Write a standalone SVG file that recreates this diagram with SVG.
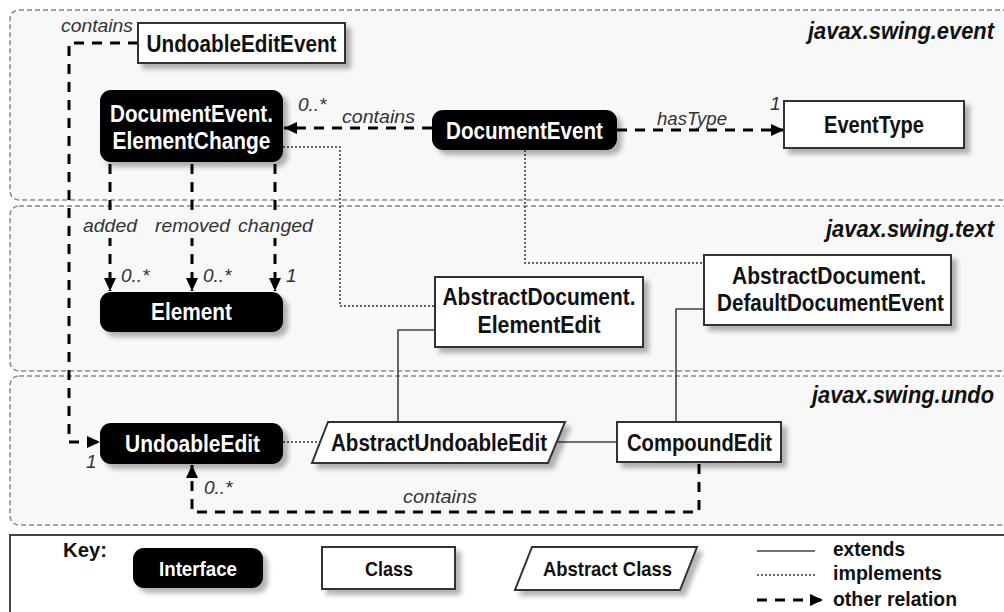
<svg xmlns="http://www.w3.org/2000/svg" width="1004" height="612" viewBox="0 0 1004 612">
<defs>
<filter id="sh" x="-10%" y="-20%" width="130%" height="160%">
<feGaussianBlur in="SourceAlpha" stdDeviation="2.5"/>
<feOffset dx="5" dy="5" result="o"/>
<feComponentTransfer><feFuncA type="linear" slope="0.3"/></feComponentTransfer>
<feMerge><feMergeNode/><feMergeNode in="SourceGraphic"/></feMerge>
</filter>
<marker id="arr" markerUnits="userSpaceOnUse" markerWidth="14" markerHeight="12" refX="13" refY="6" orient="auto">
<path d="M0,0 L13,6 L0,12 z" fill="#000"/>
</marker>
<style>
.pkg{fill:#f8f8f8;stroke:#888;stroke-width:1.5;stroke-dasharray:5,3}
.pkgl{font-family:"Liberation Sans",Arial,sans-serif;font-weight:bold;font-style:italic;font-size:23px;fill:#111}
.ifc{fill:#000;filter:url(#sh)}
.cls{fill:#fff;stroke:#333;stroke-width:2;filter:url(#sh)}
.nt{font-family:"Liberation Sans Narrow","Liberation Sans",Arial,sans-serif;font-weight:bold;font-size:23px;text-anchor:middle}
.w{fill:#fff}
.b{fill:#111}
.lbl{font-family:"Liberation Sans Narrow","Liberation Sans",Arial,sans-serif;font-style:italic;font-size:19px;fill:#333}
.ext{fill:none;stroke:#444;stroke-width:1.6}
.imp{fill:none;stroke:#333;stroke-width:1.5;stroke-dasharray:2,2}
.oth{fill:none;stroke:#000;stroke-width:3;stroke-dasharray:10,8}
.kt{font-family:"Liberation Sans Narrow","Liberation Sans",Arial,sans-serif;font-weight:bold;font-size:21px;fill:#111}
</style>
</defs>
<rect width="1004" height="612" fill="#fff"/>
<g id="packages">
<rect class="pkg" x="10" y="10" width="1010" height="190" rx="9"/>
<rect class="pkg" x="10" y="206" width="1010" height="165" rx="9"/>
<rect class="pkg" x="10" y="376" width="1010" height="149" rx="9"/>
<text class="pkgl" x="808" y="39" textLength="186" lengthAdjust="spacingAndGlyphs">javax.swing.event</text>
<text class="pkgl" x="826" y="237" textLength="168" lengthAdjust="spacingAndGlyphs">javax.swing.text</text>
<text class="pkgl" x="812" y="403" textLength="182" lengthAdjust="spacingAndGlyphs">javax.swing.undo</text>
</g>
<g id="connectors">
<path class="imp" d="M283,147 H340 V306 H435"/>
<path class="imp" d="M525,150 V263 H704"/>
<path class="imp" d="M283,442 H320"/>
<path class="ext" d="M398,422 V330 H435"/>
<path class="ext" d="M557,442 H617"/>
<path class="ext" d="M676,422 V309 H704"/>
<path class="oth" d="M138,43 H69 V442 H100" marker-end="url(#arr)"/>
<path class="oth" d="M432,128 H284" marker-end="url(#arr)"/>
<path class="oth" d="M617,130 H784" marker-end="url(#arr)"/>
<path class="oth" d="M110,164 V291" marker-end="url(#arr)"/>
<path class="oth" d="M192,164 V291" marker-end="url(#arr)"/>
<path class="oth" d="M275,164 V291" marker-end="url(#arr)"/>
<path class="oth" d="M699,464 V512 H192 V465" marker-end="url(#arr)"/>
<rect x="82" y="214" width="234" height="24" fill="#f8f8f8"/>
<text class="lbl" x="61" y="32" textLength="72" lengthAdjust="spacingAndGlyphs">contains</text>
<text class="lbl" x="298" y="111">0..*</text>
<text class="lbl" x="342" y="123" textLength="73" lengthAdjust="spacingAndGlyphs">contains</text>
<text class="lbl" x="657" y="125" textLength="70" lengthAdjust="spacingAndGlyphs">hasType</text>
<text class="lbl" x="770" y="110">1</text>
<text class="lbl" x="83" y="232" textLength="54" lengthAdjust="spacingAndGlyphs">added</text>
<text class="lbl" x="155" y="232" textLength="75" lengthAdjust="spacingAndGlyphs">removed</text>
<text class="lbl" x="238" y="232" textLength="75" lengthAdjust="spacingAndGlyphs">changed</text>
<text class="lbl" x="121" y="282">0..*</text>
<text class="lbl" x="203" y="282">0..*</text>
<text class="lbl" x="286" y="282">1</text>
<text class="lbl" x="86" y="468">1</text>
<text class="lbl" x="204" y="494">0..*</text>
<text class="lbl" x="403" y="503" textLength="74" lengthAdjust="spacingAndGlyphs">contains</text>
</g>
<g id="UndoableEditEvent">
<rect class="cls" x="138" y="23" width="207" height="40"/>
<text class="nt b" x="241.5" y="51.5" textLength="190" lengthAdjust="spacingAndGlyphs">UndoableEditEvent</text>
</g>
<g id="ElementChange">
<rect class="ifc" x="100" y="90" width="183" height="72" rx="11"/>
<text class="nt w" x="191.5" y="122" textLength="163" lengthAdjust="spacingAndGlyphs">DocumentEvent.</text>
<text class="nt w" x="191.5" y="149" textLength="158" lengthAdjust="spacingAndGlyphs">ElementChange</text>
</g>
<g id="DocumentEvent">
<rect class="ifc" x="432" y="110" width="185" height="40" rx="11"/>
<text class="nt w" x="524.5" y="138.5" textLength="157" lengthAdjust="spacingAndGlyphs">DocumentEvent</text>
</g>
<g id="EventType">
<rect class="cls" x="784" y="101" width="180" height="47"/>
<text class="nt b" x="874" y="133" textLength="100" lengthAdjust="spacingAndGlyphs">EventType</text>
</g>
<g id="Element">
<rect class="ifc" x="100" y="292" width="183" height="40" rx="11"/>
<text class="nt w" x="191.5" y="320" textLength="81" lengthAdjust="spacingAndGlyphs">Element</text>
</g>
<g id="ElementEdit">
<rect class="cls" x="435" y="277" width="208" height="70"/>
<text class="nt b" x="539" y="305" textLength="193" lengthAdjust="spacingAndGlyphs">AbstractDocument.</text>
<text class="nt b" x="539" y="333" textLength="123" lengthAdjust="spacingAndGlyphs">ElementEdit</text>
</g>
<g id="DefaultDocumentEvent">
<rect class="cls" x="704" y="255" width="247" height="70"/>
<text class="nt b" x="829" y="284" textLength="194" lengthAdjust="spacingAndGlyphs">AbstractDocument.</text>
<text class="nt b" x="830.5" y="311" textLength="227" lengthAdjust="spacingAndGlyphs">DefaultDocumentEvent</text>
</g>
<g id="UndoableEdit">
<rect class="ifc" x="100" y="423" width="183" height="41" rx="11"/>
<text class="nt w" x="192.5" y="452" textLength="135" lengthAdjust="spacingAndGlyphs">UndoableEdit</text>
</g>
<g id="AbstractUndoableEdit">
<polygon class="cls" points="328,422 565,422 548,463 312,463"/>
<text class="nt b" x="439" y="450.5" textLength="216" lengthAdjust="spacingAndGlyphs">AbstractUndoableEdit</text>
</g>
<g id="CompoundEdit">
<rect class="cls" x="617" y="422" width="164" height="40"/>
<text class="nt b" x="699.5" y="450.5" textLength="145" lengthAdjust="spacingAndGlyphs">CompoundEdit</text>
</g>
<g id="key">
<rect x="10" y="535" width="1010" height="90" fill="#fff" stroke="#444" stroke-width="2"/>
<text class="kt" x="63" y="557" textLength="44" lengthAdjust="spacingAndGlyphs">Key:</text>
<rect class="ifc" x="133" y="548" width="130" height="40" rx="11"/>
<text class="kt" x="159" y="576" style="fill:#fff" textLength="78" lengthAdjust="spacingAndGlyphs">Interface</text>
<rect class="cls" x="322" y="547" width="133" height="42"/>
<text class="kt" x="365" y="576" textLength="48" lengthAdjust="spacingAndGlyphs">Class</text>
<polygon class="cls" points="532,547 697,547 680,590 515,590"/>
<text class="kt" x="543" y="576" textLength="129" lengthAdjust="spacingAndGlyphs">Abstract Class</text>
<line class="ext" x1="757" y1="551" x2="815" y2="551"/>
<line class="imp" x1="757" y1="575" x2="815" y2="575"/>
<line class="oth" x1="757" y1="600" x2="823" y2="600" marker-end="url(#arr)"/>
<text class="kt" x="833" y="556" textLength="72" lengthAdjust="spacingAndGlyphs">extends</text>
<text class="kt" x="833" y="580" textLength="109" lengthAdjust="spacingAndGlyphs">implements</text>
<text class="kt" x="833" y="606" textLength="124" lengthAdjust="spacingAndGlyphs">other relation</text>
</g>
</svg>
